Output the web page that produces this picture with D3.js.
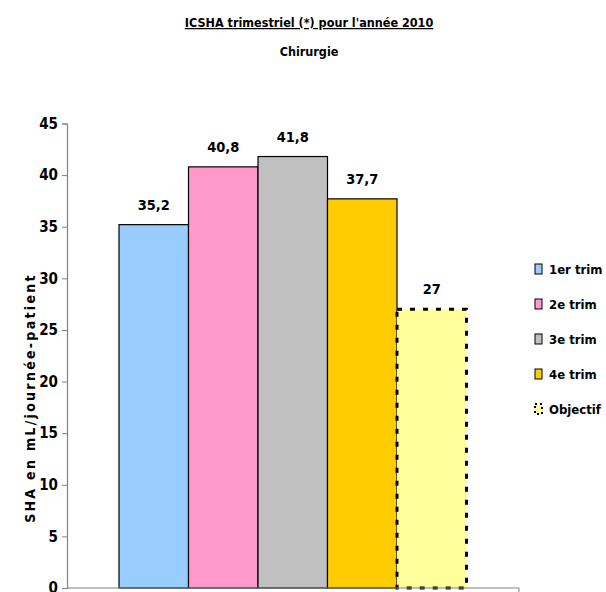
<!DOCTYPE html>
<html>
<head>
<meta charset="utf-8">
<script src="https://cdn.jsdelivr.net/npm/d3@7"></script>
<style>
  html, body { margin: 0; padding: 0; background: #fff; }
  svg text { font-family: "Comic Sans MS", "DejaVu Sans Condensed", "DejaVu Sans", sans-serif; font-weight: bold; fill: #000; }
</style>
</head>
<body>
<svg id="chart" width="606" height="592"></svg>
<script>
// Quarterly hand-rub (SHA) consumption, surgery, 2010
const categories = ["1er trim", "2e trim", "3e trim", "4e trim", "Objectif"];
const values = [35.2, 40.8, 41.8, 37.7, 27];
const valueLabels = ["35,2", "40,8", "41,8", "37,7", "27"];
const colors = ["#99CCFF", "#FF99CC", "#C0C0C0", "#FFCC00", "#FFFF99"];
const yTicks = [0, 5, 10, 15, 20, 25, 30, 35, 40, 45];

const svg = d3.select("#chart");

// Titles
svg.append("text")
  .attr("x", 309).attr("y", 27)
  .attr("text-anchor", "middle")
  .attr("font-size", 12.5)
  .attr("text-decoration", "underline")
  .text("ICSHA trimestriel (*) pour l'année 2010");
svg.append("text")
  .attr("x", 309).attr("y", 56)
  .attr("text-anchor", "middle")
  .attr("font-size", 12.5)
  .text("Chirurgie");

// Plot area
const plot = { left: 67, right: 519, top: 123.5, bottom: 588 };

const y = d3.scaleLinear().domain([0, 45]).range([plot.bottom, plot.top]);
const x = d3.scaleBand().domain(categories).range([119, 466.5]).padding(0);

// Bars with their value labels
const bars = svg.append("g");
categories.forEach((c, i) => {
  const isGoal = i === categories.length - 1;
  bars.append("rect")
    .attr("x", x(c))
    .attr("y", y(values[i]))
    .attr("width", x.bandwidth())
    .attr("height", y(0) - y(values[i]))
    .attr("fill", colors[i])
    .attr("stroke", "#000")
    .attr("stroke-width", isGoal ? 3 : 1.2)
    .attr("stroke-dasharray", isGoal ? "5,8" : null);
  bars.append("text")
    .attr("x", x(c) + x.bandwidth() / 2)
    .attr("y", y(values[i]) - 15)
    .attr("text-anchor", "middle")
    .attr("font-size", 14.5)
    .text(valueLabels[i]);
});

// Axes
const yAxis = d3.axisLeft(y).tickValues(yTicks).tickSize(5).tickPadding(4);
const gy = svg.append("g").attr("transform", `translate(${plot.left},0)`).call(yAxis);
gy.select(".domain").attr("stroke", "#808080").attr("stroke-width", 1.2);
gy.selectAll(".tick line").attr("stroke", "#808080");
gy.selectAll(".tick text")
  .attr("font-size", 15)
  .style("font-family", '"Comic Sans MS", "DejaVu Sans Condensed", "DejaVu Sans", sans-serif')
  .style("font-weight", "bold")
  .attr("fill", "#000");

svg.append("line")
  .attr("x1", plot.left).attr("x2", plot.right)
  .attr("y1", y(0)).attr("y2", y(0))
  .attr("stroke", "#808080").attr("stroke-width", 1.2);
svg.append("line")
  .attr("x1", plot.right).attr("x2", plot.right)
  .attr("y1", y(0)).attr("y2", y(0) + 5)
  .attr("stroke", "#808080");

// Y axis title
svg.append("text")
  .attr("transform", "translate(35,398) rotate(-90)")
  .attr("text-anchor", "middle")
  .attr("font-size", 14)
  .attr("letter-spacing", 2.3)
  .text("SHA en mL/journée-patient");

// Legend
const legend = svg.append("g");
categories.forEach((c, i) => {
  const ly = 269 + i * 35;
  const isGoal = i === categories.length - 1;
  legend.append("rect")
    .attr("x", 535).attr("y", ly - 5)
    .attr("width", 7).attr("height", 10)
    .attr("fill", colors[i])
    .attr("stroke", "#000")
    .attr("stroke-width", isGoal ? 2 : 1)
    .attr("stroke-dasharray", isGoal ? "2,3" : null);
  legend.append("text")
    .attr("x", 549).attr("y", ly + 5)
    .attr("font-size", 13)
    .text(c);
});
</script>
</body>
</html>
